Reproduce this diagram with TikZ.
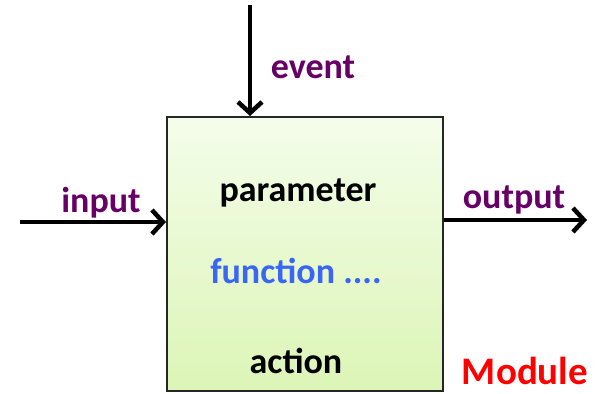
\documentclass[tikz,border=0pt]{standalone}
\usepackage{fontspec}
\setmainfont{Carlito}
\usetikzlibrary{arrows.meta}
\definecolor{labelpurple}{HTML}{660066}
\definecolor{funcblue}{HTML}{3A66F5}
\definecolor{boxtop}{HTML}{F4FDEA}
\definecolor{boxbottom}{HTML}{DCF5B6}
\tikzset{
  modulebox/.style={draw=black!85, line width=2bp, top color=boxtop, bottom color=boxbottom,
    minimum width=276bp, minimum height=274bp, inner sep=0pt},
  flow/.style={line width=4bp, -{Straight Barb[length=11bp, width=24bp, line width=4.5bp]}},
  sig/.style={font=\fontsize{36bp}{40bp}\selectfont\bfseries, text=labelpurple, anchor=base, inner sep=0pt},
  inner/.style={font=\fontsize{36bp}{40bp}\selectfont\bfseries, anchor=base, inner sep=0pt}
}
\begin{document}
\begin{tikzpicture}[x=1bp, y=-1bp]
  \useasboundingbox (0,0) rectangle (599,393);
  % the module block
  \node[modulebox] (mod) at (305,254) {};
  % free ends of the connectors
  \coordinate (evsrc) at (250,5);
  \coordinate (insrc) at (20,222);
  \coordinate (outdst) at (587,220);
  \draw[flow] (evsrc) -- (evsrc |- mod.north);
  \draw[flow] (insrc) -- (insrc -| mod.west);
  \draw[flow] (outdst -| mod.east) -- (outdst);
  % labels
  \node[sig] (lev) at (313,78) {event};
  \node[sig] (lin) at (101,212) {input};
  \node[sig] (lout) at (514,208) {output};
  \node[inner] (lpar) at (298,201) {parameter};
  \node[inner, text=funcblue] (lfun) at (296,283) {function ....};
  \node[inner] (lact) at (296,373) {action};
  \node[inner, text=red, font=\fontsize{39bp}{46bp}\selectfont\bfseries] (lmod) at (525,384) {Module};
\end{tikzpicture}
\end{document}
